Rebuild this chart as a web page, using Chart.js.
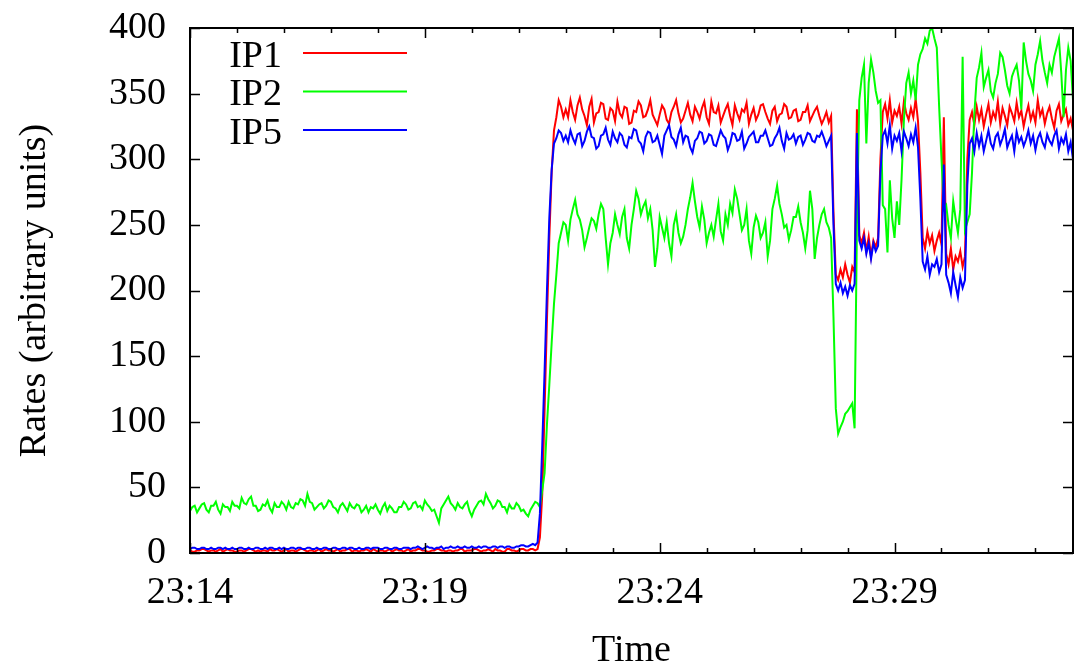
<!DOCTYPE html>
<html>
<head>
<meta charset="utf-8">
<script src="https://cdn.jsdelivr.net/npm/chart.js@4.4.1/dist/chart.umd.min.js"></script>
<style>
html,body{margin:0;padding:0;background:#fff;}
#wrap{width:1077px;height:665px;position:relative;}
</style>
</head>
<body>
<div id="wrap"><canvas id="c"></canvas></div>
<script>
// ---- data: minutes after 23:14, one reading every 0.05 min ----
const sampleStepMin = 0.05;
const xMaxMin = 18.8;
const xTickValues = [0, 5, 10, 15];
const xTickLabels = ['23:14', '23:19', '23:24', '23:29'];
const yTickValues = [0, 50, 100, 150, 200, 250, 300, 350, 400];
const seriesNames = ['IP1', 'IP2', 'IP5'];
const seriesColors = ['#ff0000', '#00ff00', '#0000ff'];

const ip1Rates = [
  // 23:14 - 23:21 (quiet)
  2,1,1,2,2,3,3,2,1,2,2,1,2,3,1,2,3,2,2,1,
  1,2,2,1,2,3,3,2,1,2,1,2,2,1,3,2,2,3,2,1,
  2,3,1,2,2,1,2,3,3,2,1,2,2,1,2,3,1,2,3,2,
  2,1,2,3,1,2,2,3,3,1,2,2,1,2,2,3,2,1,3,2,
  1,2,2,1,2,3,1,2,3,2,2,1,2,3,1,2,2,3,3,2,
  2,1,1,2,2,3,3,2,2,1,2,2,1,2,2,3,3,1,2,2,
  2,3,3,2,1,2,2,3,2,1,3,2,2,1,1,3,3,2,2,1,
  2,3,3,2,2,3,3,2,
  // rise
  3,12,45,110,178,240,290,322,332,345,340,332,
  // plateau
  338,332,345,336,330,341,347,338,333,326,340,346,328,335,336,343,342,331,330,339,
  337,329,344,335,332,340,339,327,328,337,336,344,341,332,333,338,345,334,330,326,
  334,341,338,330,327,336,340,345,335,328,331,337,343,334,329,340,336,331,339,344,
  332,327,344,336,335,341,328,333,338,342,333,326,341,335,330,338,336,343,327,334,
  339,330,334,341,342,336,331,327,337,340,329,334,335,342,340,331,332,337,338,329,
  330,336,336,341,329,333,337,340,333,327,331,336,328,333,
  // switching period
  260,212,
  208,216,210,220,212,206,218,214,
  338,242,
  236,244,230,241,226,238,233,240,
  300,336,
  342,331,345,328,337,333,340,327,344,335,330,339,332,346,329,
  290,
  240,232,245,236,242,230,238,244,235,
  332,
  228,220,232,216,226,222,230,218,226,
  300,330,336,326,340,
  // final plateau
  330,338,325,334,342,328,336,331,344,327,339,333,326,340,335,329,343,332,337,325,
  334,341,330,336,328,345,333,338,327,335,340,331,324,337,342,329,334,338,326,331,322
];
const ip2Rates = [
  32,35,36,31,34,37,38,33,31,36,36,39,33,30,37,35,35,32,39,36,
  36,34,42,38,37,41,43,36,36,32,33,37,36,40,34,31,38,35,35,39,
  37,33,39,35,34,38,37,41,40,36,45,39,38,33,35,37,38,34,36,40,
  39,35,34,31,36,38,35,32,38,35,34,37,36,31,33,36,31,35,34,37,
  33,30,35,38,32,36,34,31,31,35,35,39,37,33,34,38,39,35,36,33,
  40,37,35,32,33,28,23,34,37,40,43,38,36,33,38,35,34,37,39,32,
  28,33,36,39,40,37,45,41,38,34,36,40,39,35,35,31,37,34,34,38,
  36,32,33,30,28,33,36,39,
  38,35,48,61,98,128,160,190,212,236,244,252,
  250,238,254,262,269,258,254,246,233,240,248,255,253,247,258,266,262,240,220,236,
  244,258,250,243,256,262,240,232,250,262,276,270,258,264,268,255,262,246,218,232,
  256,248,240,252,236,226,250,258,244,236,241,250,262,271,282,268,256,248,264,254,
  236,244,250,241,254,266,245,238,258,250,266,259,277,270,258,246,250,262,238,228,
  248,257,252,240,244,252,226,238,262,270,280,266,258,248,250,239,246,256,256,264,
  252,244,232,246,276,262,224,240,250,258,262,252,248,240,
  180,110,
  91,96,100,106,108,111,114,95,
  250,345,
  362,372,312,358,376,366,352,343,
  345,265,
  262,229,284,255,240,268,250,285,330,358,366,350,360,345,372,
  380,
  384,392,388,398,400,392,385,340,300,
  262,
  265,250,240,268,255,244,262,378,246,
  252,258,290,335,362,
  370,381,355,362,368,352,347,358,365,381,378,368,356,350,363,368,372,360,338,389,
  375,365,360,352,372,380,390,375,366,358,372,366,378,385,392,366,332,368,385,375,345
];
const ip5Rates = [
  3,4,4,3,3,4,4,3,3,4,3,3,4,4,3,4,3,3,4,3,
  3,4,4,3,3,4,3,3,4,4,3,3,4,3,4,4,3,3,4,3,
  4,3,3,4,4,3,4,4,3,3,4,4,3,3,4,3,3,4,4,3,
  3,4,4,3,3,4,4,3,4,4,3,3,4,3,3,4,4,3,4,4,
  4,3,3,4,4,3,3,4,4,3,3,4,4,4,3,4,4,5,4,3,
  4,5,4,4,3,4,4,5,3,4,4,5,4,4,5,4,4,5,4,4,
  5,4,4,5,4,5,5,4,4,5,5,4,5,5,4,5,5,4,4,5,
  5,6,6,5,5,6,7,6,
  8,30,82,139,200,255,292,312,316,322,320,314,
  318,313,322,316,312,319,320,310,314,321,325,317,316,308,310,318,319,324,315,311,
  321,316,313,320,318,311,309,317,316,323,322,314,312,306,317,321,320,313,314,318,
  311,304,318,322,326,317,315,310,319,324,313,318,317,309,305,314,316,321,320,312,
  314,319,318,311,310,316,322,318,316,307,312,320,319,314,315,321,308,312,317,319,
  321,313,313,318,318,322,316,310,311,316,319,324,314,308,320,315,316,319,312,317,
  318,311,315,320,319,314,313,318,317,321,316,310,314,318,
  250,205,
  200,206,198,203,196,204,200,205,
  320,238,
  232,240,228,236,224,236,230,234,
  290,318,
  322,312,326,308,318,314,320,306,321,316,310,319,313,324,309,
  270,
  222,216,226,212,220,218,224,214,220,
  296,
  212,206,198,214,204,195,210,202,208,
  280,312,316,306,320,
  310,318,306,314,322,312,308,317,320,311,316,323,309,314,318,306,321,313,317,310,
  315,322,312,318,307,316,320,313,309,319,314,311,318,322,308,316,312,319,306,313,300
];

const FONT = "'Liberation Serif', 'Times New Roman', Times, serif";
const toPoints = arr => arr.map((v, i) => ({ x: +(i * sampleStepMin).toFixed(2), y: v }));
const allSeries = [ip1Rates, ip2Rates, ip5Rates];

const datasets = allSeries.map((arr, k) => ({
  label: seriesNames[k],
  data: toPoints(arr),
  borderColor: seriesColors[k],
  backgroundColor: seriesColors[k],
  borderWidth: 2,
  pointRadius: 0,
  tension: 0,
  fill: false,
  order: 3 - k
}));

const framePlugin = {
  id: 'gnuplotFrame',
  afterDatasetsDraw(chart) {
    const { ctx, chartArea: a, scales: { x, y } } = chart;
    ctx.save();
    ctx.strokeStyle = '#000';
    ctx.lineWidth = 2;
    ctx.strokeRect(a.left, a.top, a.right - a.left, a.bottom - a.top);
    ctx.lineWidth = 1.5;
    ctx.beginPath();
    yTickValues.forEach(v => {
      const py = Math.round(y.getPixelForValue(v)) + 0.5;
      ctx.moveTo(a.left, py); ctx.lineTo(a.left + 10, py);
      ctx.moveTo(a.right, py); ctx.lineTo(a.right - 10, py);
    });
    for (let m = 0; m <= Math.floor(xMaxMin); m++) {
      const px = Math.round(x.getPixelForValue(m)) + 0.5;
      const len = (m % 5 === 0) ? 10 : 5;
      ctx.moveTo(px, a.bottom); ctx.lineTo(px, a.bottom - len);
      ctx.moveTo(px, a.top); ctx.lineTo(px, a.top + len);
    }
    ctx.stroke();
    ctx.font = '38px ' + FONT;
    ctx.textAlign = 'right';
    ctx.textBaseline = 'middle';
    seriesNames.forEach((name, k) => {
      const yy = 53 + k * 38.5;
      ctx.fillStyle = '#000';
      ctx.fillText(name, 282, yy + 4);
      ctx.strokeStyle = seriesColors[k];
      ctx.lineWidth = 2;
      ctx.beginPath();
      ctx.moveTo(303, yy); ctx.lineTo(407, yy);
      ctx.stroke();
    });
    ctx.restore();
  }
};

new Chart(document.getElementById('c'), {
  type: 'line',
  data: { datasets },
  options: {
    responsive: true,
    maintainAspectRatio: false,
    animation: false,
    layout: { padding: { top: 28, right: 4, left: 0, bottom: 0 } },
    plugins: { legend: { display: false }, tooltip: { enabled: false } },
    scales: {
      x: {
        type: 'linear', min: 0, max: xMaxMin,
        grid: { display: false, drawTicks: false },
        border: { display: false },
        afterBuildTicks: s => { s.ticks = xTickValues.map(v => ({ value: v })); },
        afterFit: s => { s.height = 112; s.paddingLeft = 0; s.paddingRight = 0; },
        ticks: {
          autoSkip: false, maxRotation: 0, color: '#000', padding: 17,
          font: { family: FONT, size: 38 },
          callback: v => { const i = xTickValues.indexOf(v); return i >= 0 ? xTickLabels[i] : ''; }
        },
        title: { display: true, text: 'Time', color: '#000',
          font: { family: FONT, size: 38, lineHeight: 0.75 }, padding: { top: 0, bottom: 0 } }
      },
      y: {
        min: 0, max: 400,
        grid: { display: false, drawTicks: false },
        border: { display: false },
        afterBuildTicks: s => { s.ticks = yTickValues.map(v => ({ value: v })); },
        afterFit: s => { s.width = 190; s.paddingTop = 0; s.paddingBottom = 0; },
        ticks: { color: '#000', padding: 24, font: { family: FONT, size: 38 } },
        title: { display: true, text: 'Rates (arbitrary units)', color: '#000',
          font: { family: FONT, size: 38, lineHeight: 1.0 }, padding: { top: 16, bottom: 0 } }
      }
    }
  },
  plugins: [framePlugin]
});
</script>
</body>
</html>
